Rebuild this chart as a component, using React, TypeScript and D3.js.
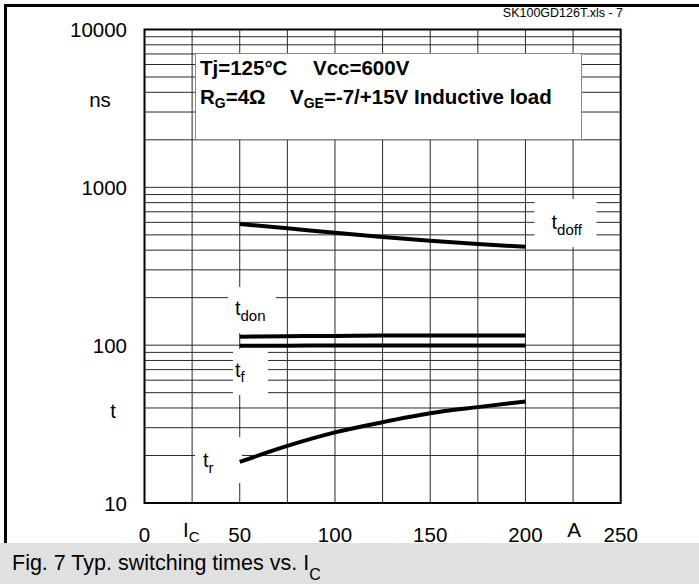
import { useEffect, useRef } from "react";
import * as d3 from "d3";

// ── data ─────────────────────────────────────────────────────────────────────
const IC = [50, 75, 100, 125, 150, 175, 200];            // collector current, A
const T_DOFF = [585, 550, 515, 485, 459, 437, 420];       // ns
const T_DON = [113, 114, 114.5, 115, 115, 115, 115];      // ns
const T_F = [99, 99.3, 99.5, 99.5, 99.5, 99.5, 99.5];     // ns
const T_R = [18.2, 23, 28, 32.5, 37, 40.5, 44];           // ns

const X_TICKS = [0, 50, 100, 150, 200, 250];
const Y_TICKS = [10, 100, 1000, 10000];

const SERIES = [
  { key: "doff", values: T_DOFF },
  { key: "don", values: T_DON },
  { key: "f", values: T_F },
  { key: "r", values: T_R },
];

// curve labels, anchored in data coordinates (A, ns)
const CURVE_LABELS = [
  { sub: "doff", ic: 213.7, t: 544 },
  { sub: "don", ic: 47.5, t: 155 },
  { sub: "f", ic: 47.5, t: 63 },
  { sub: "r", ic: 30.7, t: 16.9 },
];

const W = 699;
const H = 584;
const PLOT = { left: 144.5, right: 620.7, top: 29.5, bottom: 503 };
const FONT = "'Liberation Sans', Arial, Helvetica, sans-serif";

// white background boxes behind the curve labels (px relative to label anchor)
const LABEL_BOX: Record<string, [number, number, number, number]> = {
  doff: [-17, 45, -30, 18],
  don: [-7, 41, -28, 18],
  f: [-2, 33, -28, 18],
  r: [-8, 39, -30, 16],
};

export default function App() {
  const svgRef = useRef<SVGSVGElement | null>(null);

  useEffect(() => {
    if (!svgRef.current) return;
    const svg = d3.select(svgRef.current);
    svg.selectAll("*").remove();

    const x = d3.scaleLinear().domain([0, 250]).range([PLOT.left, PLOT.right]);
    const y = d3.scaleLog().domain([10, 10000]).range([PLOT.bottom, PLOT.top]);

    svg.append("rect").attr("width", W).attr("height", H).attr("fill", "#fff");

    // ── grid ────────────────────────────────────────────────────────────────
    const grid = svg.append("g").attr("stroke", "#2a2a2a").attr("stroke-width", 1);
    grid.selectAll("line.v")
      .data(d3.range(25, 250, 25))
      .join("line")
      .attr("x1", d => x(d)).attr("x2", d => x(d))
      .attr("y1", PLOT.top).attr("y2", PLOT.bottom);
    grid.selectAll("line.h")
      .data(y.ticks())
      .join("line")
      .attr("x1", PLOT.left).attr("x2", PLOT.right)
      .attr("y1", d => y(d)).attr("y2", d => y(d));

    // label boxes knock out the grid
    CURVE_LABELS.forEach(l => {
      const [x0, x1, y0, y1] = LABEL_BOX[l.sub];
      svg.append("rect")
        .attr("x", x(l.ic) + x0).attr("y", y(l.t) + y0)
        .attr("width", x1 - x0).attr("height", y1 - y0)
        .attr("fill", "#fff");
    });

    // ── condition box ───────────────────────────────────────────────────────
    svg.append("rect")
      .attr("x", 195.5).attr("y", 53.5).attr("width", 386).attr("height", 86)
      .attr("fill", "#fff").attr("stroke", "#8a8a8a").attr("stroke-width", 1);

    const cond = svg.append("g")
      .attr("font-family", FONT).attr("font-weight", "bold").attr("font-size", 20.5).attr("fill", "#000");
    const l1 = cond.append("text").attr("y", 75);
    l1.append("tspan").attr("x", 200).text("Tj=125°C");
    l1.append("tspan").attr("x", 313).text("Vcc=600V");
    const l2 = cond.append("text").attr("y", 103.5);
    l2.append("tspan").attr("x", 200).text("R");
    l2.append("tspan").attr("font-size", 14).attr("dy", 4).text("G");
    l2.append("tspan").attr("dy", -4).text("=4Ω");
    l2.append("tspan").attr("x", 290).text("V");
    l2.append("tspan").attr("font-size", 14).attr("dy", 4).text("GE");
    l2.append("tspan").attr("dy", -4).text("=-7/+15V Inductive load");

    // ── curves ──────────────────────────────────────────────────────────────
    const line = d3.line<[number, number]>()
      .x(d => x(d[0])).y(d => y(d[1]))
      .curve(d3.curveMonotoneX);
    svg.append("g")
      .selectAll("path")
      .data(SERIES)
      .join("path")
      .attr("d", s => line(IC.map((c, i) => [c, s.values[i]] as [number, number])))
      .attr("fill", "none").attr("stroke", "#000").attr("stroke-width", 4);

    // plot frame
    svg.append("rect")
      .attr("x", PLOT.left).attr("y", PLOT.top)
      .attr("width", PLOT.right - PLOT.left).attr("height", PLOT.bottom - PLOT.top)
      .attr("fill", "none").attr("stroke", "#000").attr("stroke-width", 2);

    // curve labels
    const cl = svg.append("g").attr("font-family", FONT).attr("fill", "#000");
    CURVE_LABELS.forEach(l => {
      const t = cl.append("text").attr("x", x(l.ic)).attr("y", y(l.t)).attr("font-size", 20);
      t.append("tspan").text("t");
      t.append("tspan").attr("font-size", 15).attr("dy", 5.5).text(l.sub);
    });

    // ── axis labels ─────────────────────────────────────────────────────────
    const ax = svg.append("g").attr("font-family", FONT).attr("font-size", 20.5).attr("fill", "#000");
    ax.selectAll("text.yt")
      .data(Y_TICKS)
      .join("text")
      .attr("x", 127).attr("y", d => y(d) + 7.5)
      .attr("text-anchor", "end")
      .text(d => String(d));
    ax.append("text").attr("x", 100).attr("y", y(3500) + 6).attr("text-anchor", "middle").text("ns");
    ax.append("text").attr("x", 113).attr("y", y(38) + 7).attr("text-anchor", "middle").text("t");

    ax.selectAll("text.xt")
      .data(X_TICKS)
      .join("text")
      .attr("x", d => x(d)).attr("y", 542)
      .attr("text-anchor", "middle")
      .text(d => String(d));
    const ic = ax.append("text").attr("x", x(20.2)).attr("y", 537);
    ic.append("tspan").text("I");
    ic.append("tspan").attr("font-size", 15).attr("dy", 5).text("C");
    ax.append("text").attr("x", x(225.5)).attr("y", 537).attr("text-anchor", "middle").text("A");

    // file tag
    svg.append("text")
      .attr("x", 623).attr("y", 17).attr("text-anchor", "end")
      .attr("font-family", FONT).attr("font-size", 12.5).attr("fill", "#000")
      .text("SK100GD126T.xls - 7");

    // outer frame (top + left)
    svg.append("path")
      .attr("d", `M5.5,${H}V5.5H${W}`)
      .attr("fill", "none").attr("stroke", "#000").attr("stroke-width", 3);

    // caption band
    svg.append("rect").attr("x", 0).attr("y", 543).attr("width", W).attr("height", H - 543).attr("fill", "#e0e0e0");
    const cap = svg.append("text")
      .attr("x", 12).attr("y", 570)
      .attr("font-family", FONT).attr("font-size", 21.5).attr("fill", "#000");
    cap.append("tspan").text("Fig. 7 Typ. switching times vs. I");
    cap.append("tspan").attr("font-size", 16).attr("dy", 10).text("C");
  }, []);

  return (
    <svg
      ref={svgRef}
      width={W}
      height={H}
      viewBox={`0 0 ${W} ${H}`}
      style={{ position: "absolute", left: 0, top: 0, display: "block" }}
    />
  );
}
